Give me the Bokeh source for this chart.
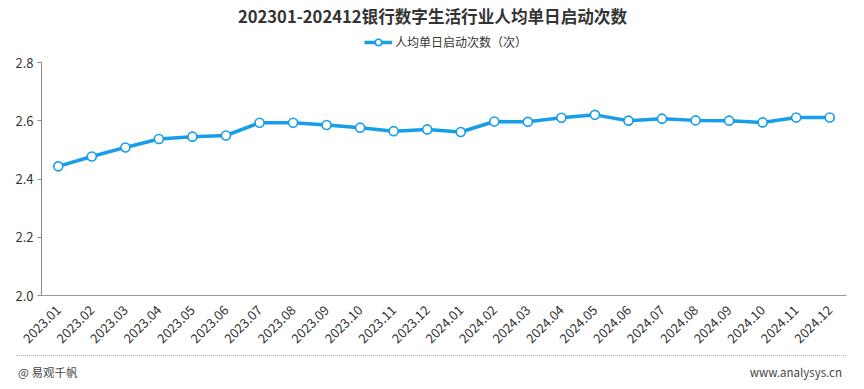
import math
from bokeh.plotting import figure
from bokeh.layouts import column
from bokeh.models import Label, Legend, LegendItem, FixedTicker, NumeralTickFormatter, Range1d, Div
from bokeh.embed import file_html
from bokeh.resources import INLINE

months = ["2023.01", "2023.02", "2023.03", "2023.04", "2023.05", "2023.06",
          "2023.07", "2023.08", "2023.09", "2023.10", "2023.11", "2023.12",
          "2024.01", "2024.02", "2024.03", "2024.04", "2024.05", "2024.06",
          "2024.07", "2024.08", "2024.09", "2024.10", "2024.11", "2024.12"]
values = [2.444, 2.478, 2.509, 2.538, 2.546, 2.550,
          2.594, 2.594, 2.586, 2.577, 2.565, 2.571,
          2.562, 2.598, 2.597, 2.611, 2.621, 2.601,
          2.608, 2.602, 2.601, 2.595, 2.612, 2.612]
y_ticks = [2.0, 2.2, 2.4, 2.6, 2.8]
y_min, y_max = 2.0, 2.8

title_text = "202301-202412银行数字生活行业人均单日启动次数"
series_name = "人均单日启动次数（次）"
source_left = "@ 易观千帆"
source_right = "www.analysys.cn"
FONT = "Noto Sans CJK SC"
BLUE = "#179ee8"

W = 864
MH = 350
BB = 53
FRAME_H = MH - BB
TOP_PAD = 62.7  # px of headroom above the 2.8 line (title + legend live here)
y_top = y_max + (y_max - y_min) * TOP_PAD / (FRAME_H - TOP_PAD)

p = figure(x_range=months, width=W, height=MH, output_backend="svg",
           toolbar_location=None, min_border_left=41, min_border_right=18,
           min_border_top=0, min_border_bottom=BB)
p.y_range = Range1d(y_min, y_top)
p.outline_line_color = None
p.grid.visible = False

ln = p.line(months, values, line_color=BLUE, line_width=3.5)
sc = p.scatter(months, values, size=9, fill_color="white", line_color=BLUE, line_width=1.6)

p.yaxis.bounds = (y_min, y_max)
p.yaxis.ticker = FixedTicker(ticks=y_ticks)
p.yaxis.formatter = NumeralTickFormatter(format="0.0")
p.yaxis.axis_line_color = "#888888"
p.yaxis.major_tick_line_color = "#888888"
p.yaxis.major_tick_out = 4
p.yaxis.major_tick_in = 0
p.yaxis.minor_tick_line_color = None
p.yaxis.major_label_text_font = FONT
p.yaxis.major_label_text_font_size = "13px"
p.yaxis.major_label_text_color = "#333333"
p.yaxis.major_label_standoff = 4

p.xaxis.axis_line_color = "#999999"
p.xaxis.major_tick_line_color = None
p.xaxis.minor_tick_line_color = None
p.xaxis.major_label_orientation = math.pi / 4
p.xaxis.major_label_text_font = FONT
p.xaxis.major_label_text_font_size = "13px"
p.xaxis.major_label_text_color = "#333333"
p.xaxis.major_label_standoff = 6

p.add_layout(Label(x=391, y=FRAME_H - 17, x_units="screen", y_units="screen", text=title_text,
                   text_font=FONT, text_font_size="16.6px", text_font_style="bold",
                   text_color="#333333", text_align="center", text_baseline="middle"))

legend = Legend(items=[LegendItem(label=series_name, renderers=[ln, sc])],
                location=(323, FRAME_H - 52), orientation="horizontal",
                background_fill_alpha=0, border_line_color=None,
                padding=0, margin=0, glyph_width=28, glyph_height=16,
                label_text_font=FONT, label_text_font_size="12px",
                label_text_color="#333333", label_standoff=3)
p.add_layout(legend, "center")

FH = 389 - MH
footer_html = (
    f'<div style="position:relative;width:{W}px;height:{FH}px;'
    f"font-family:'{FONT}';font-size:11.5px;color:#444444;line-height:16px;\">"
    '<div style="position:absolute;left:16px;top:5px;width:830px;height:0;'
    'border-top:1px dotted #b0b0b0;"></div>'
    f'<span style="position:absolute;left:18px;top:14px;">{source_left}</span>'
    f'<span style="position:absolute;right:22px;top:14px;">{source_right}</span>'
    '</div>'
)
f = Div(text=footer_html, width=W, height=FH, margin=0)

layout = column(p, f, spacing=0)
open("out.html", "w").write(file_html(layout, INLINE))
